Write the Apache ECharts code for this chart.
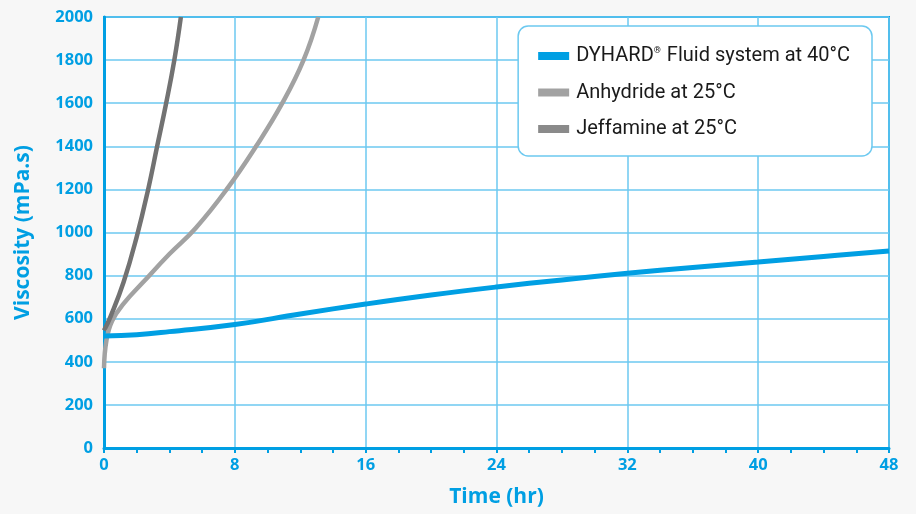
<!DOCTYPE html>
<html><head><meta charset="utf-8">
<script src="https://cdn.jsdelivr.net/npm/echarts@6/dist/echarts.min.js"></script>
<style>html,body{margin:0;padding:0;background:#f7f7f7}#c{width:916px;height:514px}</style>
</head><body><div id="c"></div>
<script>
const seriesNames = ['DYHARD® Fluid system at 40°C', 'Anhydride at 25°C', 'Jeffamine at 25°C'];
const dyhardX = [0, 2, 4, 8, 12, 16, 20, 24, 28, 32, 36, 40, 44, 48];
const dyhardY = [520, 526, 540, 573, 622, 668, 710, 747, 780, 811, 838, 863, 889, 914];
const anhydrideX = [0, 0.15, 0.5, 1.2, 2.4, 4.0, 5.6, 7.5, 9.3, 10.9, 12.2, 13.1];
const anhydrideY = [370, 500, 590, 670, 770, 900, 1020, 1200, 1400, 1600, 1800, 2000];
const jeffamineX = [0, 0.4, 1.2, 2.0, 2.7, 3.25, 3.8, 4.3, 4.7];
const jeffamineY = [545, 610, 770, 980, 1200, 1400, 1600, 1800, 2000];
const xTicks = [0, 8, 16, 24, 32, 40, 48];
const yTicks = [0, 200, 400, 600, 800, 1000, 1200, 1400, 1600, 1800, 2000];

const blue = '#009fe3';
const pair = (xs, ys) => xs.map((x, i) => [x, ys[i]]);
const chart = echarts.init(document.getElementById('c'));
const axisFont = {color: blue, fontFamily: 'Open Sans', fontWeight: 'bold', fontSize: 16.5, formatter: v => String(v)};
chart.setOption({
  backgroundColor: '#f7f7f7',
  animation: false,
  grid: {left: 104, right: 27, top: 17, bottom: 66, show: true, backgroundColor: '#fff', borderColor: blue, borderWidth: 2},
  legend: {
    orient: 'vertical', right: 44, top: 26,
    padding: [20, 22, 17, 20], itemGap: 16.5,
    backgroundColor: '#fff', borderColor: '#6cc9f0', borderWidth: 1.5, borderRadius: 10,
    icon: 'rect', itemWidth: 31, itemHeight: 8,
    data: seriesNames,
    formatter: n => n.replace('®', '{sup|®}'),
    textStyle: {fontFamily: 'Roboto', fontSize: 20, color: '#1a1a1a', padding: [0, 0, 0, 2],
      rich: {sup: {fontSize: 9, verticalAlign: 'top', padding: [0, 1, 9, 0], fontFamily: 'Roboto', color: '#1a1a1a'}}}
  },
  xAxis: {
    type: 'value', min: xTicks[0], max: xTicks[xTicks.length - 1], interval: 8,
    name: 'Time (hr)', nameLocation: 'middle', nameGap: 39,
    nameTextStyle: {color: blue, fontFamily: 'Open Sans', fontWeight: 'bold', fontSize: 21},
    axisLine: {lineStyle: {color: blue, width: 3}},
    axisTick: {show: true, length: 5, lineStyle: {color: blue, width: 2}},
    minorTick: {show: true, splitNumber: 4, length: 5, lineStyle: {color: blue, width: 2}},
    axisLabel: Object.assign({margin: 9}, axisFont),
    splitLine: {lineStyle: {color: '#6cc9f0', width: 1.5}}
  },
  yAxis: {
    type: 'value', min: yTicks[0], max: yTicks[yTicks.length - 1], interval: 200,
    name: 'Viscosity (mPa.s)', nameLocation: 'middle', nameGap: 70,
    nameTextStyle: {color: blue, fontFamily: 'Open Sans', fontWeight: 'bold', fontSize: 21},
    axisLine: {show: true, lineStyle: {color: blue, width: 3}},
    axisTick: {show: false},
    axisLabel: Object.assign({margin: 11}, axisFont),
    splitLine: {lineStyle: {color: '#6cc9f0', width: 1.5}}
  },
  series: [
    {name: seriesNames[1], type: 'line', smooth: 0.45, showSymbol: false, data: pair(anhydrideX, anhydrideY),
      lineStyle: {color: '#a2a2a2', width: 4.5}, itemStyle: {color: '#a2a2a2'}, z: 2},
    {name: seriesNames[2], type: 'line', smooth: 0.45, showSymbol: false, data: pair(jeffamineX, jeffamineY),
      lineStyle: {color: '#727272', width: 4.5}, itemStyle: {color: '#8a8a8a'}, z: 3},
    {name: seriesNames[0], type: 'line', smooth: 0.45, showSymbol: false, data: pair(dyhardX, dyhardY),
      lineStyle: {color: blue, width: 5}, itemStyle: {color: blue}, z: 4}
  ]
});
</script></body></html>
